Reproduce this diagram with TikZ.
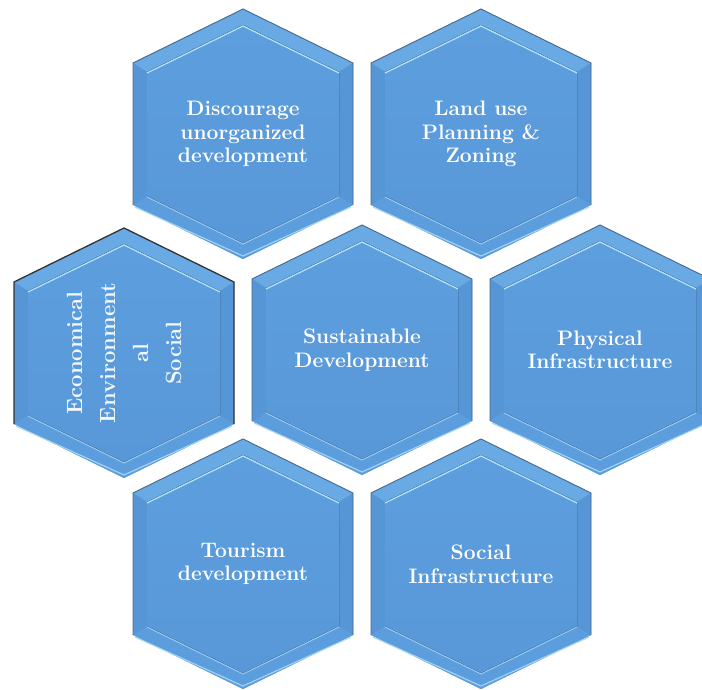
\documentclass[tikz,border=0pt]{standalone}
\usepackage{tikz}
\begin{document}
\begin{tikzpicture}[x=1pt,y=-1pt,
  bevelmid/.style={fill=hexmid},
  beveltop/.style={fill=hextop},
  bevelbot/.style={fill=hexbot},
  bevelside/.style={fill=hexside},
  face/.style={top color=hexfaceA,bottom color=hexfaceB},
  hilite/.style={draw=hexlight,line width=1.2pt,line join=miter},
  rimdark/.style={draw=hexrim,line width=0.9pt,line join=miter},
  rimlight/.style={draw=hexlight!80!hexmid,line width=1.1pt},
  celltext/.style={text=white,align=center,font=\fontsize{21}{23.5}\selectfont\bfseries,inner sep=0pt},
  sidetext/.style={text=white!92!hexmid,align=center,font=\fontsize{22}{33}\selectfont\bfseries,inner sep=0pt,rotate=90}]
\definecolor{hexmid}{HTML}{5A9ADA}
\definecolor{hextop}{HTML}{69A9E4}
\definecolor{hexbot}{HTML}{5C9EDD}
\definecolor{hexside}{HTML}{5796D6}
\definecolor{hexfaceA}{HTML}{5D9EDE}
\definecolor{hexfaceB}{HTML}{5898D8}
\definecolor{hexlight}{HTML}{B8E2F8}
\definecolor{hexrim}{HTML}{46698C}

\useasboundingbox (0,0) rectangle (702,690);

% one bevelled hexagon: #1,#2 centre, #3 node name, #4 text, #5 text style, #6 rim style
\newcommand{\hexcell}[6]{%
  \begin{scope}[shift={(#1,#2)}]
    \fill[bevelmid] (0,-125) -- (110,-71) -- (110,71) -- (0,125) -- (-110,71) -- (-110,-71) -- cycle;
    \fill[beveltop] (-110,-71) -- (0,-125) -- (110,-71) -- (96,-62) -- (0,-109) -- (-96,-62) -- cycle;
    \fill[bevelbot] (-110,71) -- (0,125) -- (110,71) -- (96,62) -- (0,109) -- (-96,62) -- cycle;
    \fill[bevelside] (-110,-71) -- (-96,-62) -- (-96,62) -- (-110,71) -- cycle;
    \fill[bevelside] (110,-71) -- (96,-62) -- (96,62) -- (110,71) -- cycle;
    \fill[face] (0,-109) -- (96,-62) -- (96,62) -- (0,109) -- (-96,62) -- (-96,-62) -- cycle;
    \draw[hilite] (-96,-61) -- (0,-108) -- (96,-61);
    \draw[hilite,line width=0.9pt,draw=hexlight!70!hexmid] (-96,63) -- (0,110) -- (96,63);
    \draw[rimlight] (-108,73) -- (0,122) -- (108,73);
    \draw[#6] (-110,71) -- (-110,-71) -- (0,-125) -- (110,-71) -- (110,71);
  \end{scope}
  \node[#5] (#3) at (#1,#2) {#4};
}

\hexcell{243}{134}{discourage}{Discourage\\unorganized\\development}{celltext}{rimdark}
\hexcell{481}{134}{landuse}{Land use\\Planning \&\\Zoning}{celltext}{rimdark}
\hexcell{124}{353}{pillars}{Economical\\Environment\\al\\Social}{sidetext}{rimdark,draw=black!80,line width=1.3pt}
\hexcell{362}{350}{sustainable}{Sustainable\\Development}{celltext}{rimdark}
\hexcell{600}{350}{physical}{Physical\\Infrastructure}{celltext}{rimdark}
\hexcell{243}{564}{tourism}{Tourism\\development}{celltext}{rimdark}
\hexcell{481}{564}{social}{Social\\Infrastructure}{celltext}{rimdark}
\end{tikzpicture}
\end{document}
